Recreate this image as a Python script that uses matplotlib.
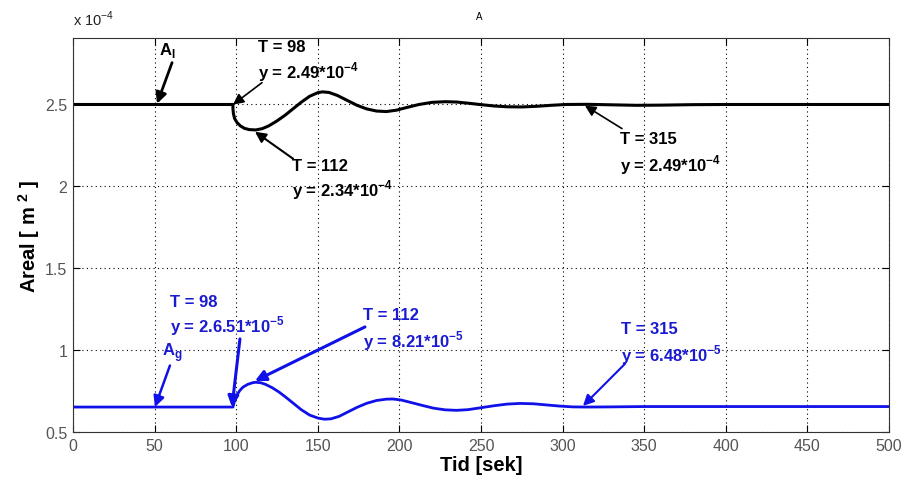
import matplotlib
matplotlib.use("Agg")
import matplotlib.pyplot as plt

plt.rcParams['font.family'] = ['Liberation Sans', 'DejaVu Sans']
plt.rcParams['mathtext.fontset'] = 'custom'
plt.rcParams['mathtext.rm'] = 'Liberation Sans'
plt.rcParams['mathtext.bf'] = 'Liberation Sans:bold'

# Data (area in units of 1e-4 m^2), time in seconds
t_l = [0, 50, 98, 98.0, 98.3, 99, 100.5, 102.5, 105, 108, 112, 116, 120, 125,
       130, 135, 140, 145, 150, 153, 157, 162, 168, 174, 180, 186, 192, 198,
       205, 212, 220, 228, 235, 242, 250, 258, 266, 275, 284, 293, 302, 315,
       330, 345, 360, 380, 400, 450, 500]
a_l = [2.495, 2.495, 2.495, 2.47, 2.44, 2.41, 2.385, 2.365, 2.35, 2.342, 2.34,
       2.348, 2.365, 2.395, 2.43, 2.47, 2.51, 2.545, 2.567, 2.572, 2.568,
       2.55, 2.52, 2.49, 2.468, 2.455, 2.452, 2.46, 2.478, 2.495, 2.508,
       2.512, 2.51, 2.503, 2.494, 2.486, 2.481, 2.48, 2.484, 2.49, 2.495,
       2.496, 2.493, 2.49, 2.491, 2.494, 2.495, 2.495, 2.495]

t_g = [0, 50, 98, 99, 100.5, 102, 104, 107, 110, 112, 115, 118, 122, 126,
       130, 135, 140, 145, 150, 154, 158, 163, 168, 174, 180, 186, 192, 196,
       201, 207, 214, 221, 228, 235, 242, 250, 258, 266, 274, 282, 290, 298,
       306, 315, 330, 350, 380, 420, 460, 500]
a_g = [0.652, 0.652, 0.652, 0.69, 0.725, 0.75, 0.772, 0.79, 0.80, 0.803,
       0.80, 0.79, 0.77, 0.745, 0.715, 0.675, 0.635, 0.603, 0.585, 0.578,
       0.58, 0.595, 0.62, 0.65, 0.675, 0.692, 0.70, 0.701, 0.695, 0.68,
       0.662, 0.645, 0.635, 0.632, 0.636, 0.648, 0.66, 0.67, 0.674, 0.672,
       0.665, 0.658, 0.653, 0.652, 0.653, 0.655, 0.655, 0.655, 0.655, 0.655]

x_ticks = [0, 50, 100, 150, 200, 250, 300, 350, 400, 450, 500]
y_ticks = [0.5, 1, 1.5, 2, 2.5]
y_tick_labels = ["0.5", "1", "1.5", "2", "2.5"]

BLUE = "#1010e8"
BLUE_TXT = "#1a1ad0"
FS = 12

fig = plt.figure(figsize=(9.02, 4.85), dpi=100)
ax = fig.add_axes([73/902, 1-433/485, (889-73)/902, (433-39)/485])

ax.plot(t_l, a_l, color='black', lw=2.2, solid_joinstyle='round')
ax.plot(t_g, a_g, color=BLUE, lw=2.0, solid_joinstyle='round')

ax.set_xlim(0, 500)
ax.set_ylim(0.5, 2.9)
ax.set_xticks(x_ticks)
ax.set_xticklabels([str(v) for v in x_ticks])
ax.set_yticks(y_ticks)
ax.set_yticklabels(y_tick_labels)
ax.tick_params(direction='in', length=5, labelsize=11.5, labelcolor='#555555',
               top=True, right=True, width=0.8, pad=4)
ax.grid(True, linestyle=(0, (1, 3)), color='black', lw=0.8)
for s in ax.spines.values():
    s.set_color('#333333')
    s.set_linewidth(0.8)

ax.set_xlabel("Tid [sek]", fontsize=14.5, fontweight='bold', labelpad=2)
ax.set_ylabel(r"Areal [ m $^{\mathbf{2}}$ ]", fontsize=14.5, fontweight='bold', labelpad=2)
fig.text(479/902, 1-17/485, "A", fontsize=7, ha='center', va='center')
fig.text(73/902, 1-19/485, r"x 10$^{-4}$", fontsize=10.5, ha='left', va='center', color='#222222')

def arrow(xy, xytext, color, lw):
    ax.annotate("", xy=xy, xytext=xytext,
                arrowprops=dict(arrowstyle='-|>', color=color, lw=lw,
                                mutation_scale=16, shrinkA=0, shrinkB=0))

def txt(s, x, y, color, fs=FS):
    ax.text(x, y, s, fontsize=fs, fontweight='bold', color=color,
            ha='left', va='center')

# Black annotations
txt(r"A$_{\mathbf{l}}$", 53, 2.83, 'black')
arrow((51.5, 2.5), (60.7, 2.75), 'black', 2.0)
txt("T = 98", 113.4, 2.848, 'black')
txt(r"y = 2.49*10$^{\mathbf{-4}}$", 113.4, 2.695, 'black')
arrow((98, 2.494), (115.8, 2.628), 'black', 1.2)
txt("T = 112", 134.2, 2.122, 'black')
txt(r"y = 2.34*10$^{\mathbf{-4}}$", 134.2, 1.982, 'black')
arrow((111.5, 2.329), (134.8, 2.165), 'black', 1.5)
txt("T = 315", 335, 2.287, 'black')
txt(r"y = 2.49*10$^{\mathbf{-4}}$", 335, 2.134, 'black')
arrow((313.7, 2.488), (336.4, 2.348), 'black', 1.2)

# Blue annotations
txt("T = 98", 59.4, 1.293, BLUE_TXT)
txt(r"y = 2.6.51*10$^{\mathbf{-5}}$", 59.4, 1.152, BLUE_TXT)
arrow((97.4, 0.652), (102.3, 1.067), BLUE, 2.2)
txt(r"A$_{\mathbf{g}}$", 54.5, 0.99, BLUE_TXT)
arrow((50.2, 0.652), (59.4, 0.905), BLUE, 1.8)
txt("T = 112", 177.7, 1.213, BLUE_TXT)
txt(r"y = 8.21*10$^{\mathbf{-5}}$", 177.7, 1.061, BLUE_TXT)
arrow((111.5, 0.811), (178.9, 1.14), BLUE, 2.2)
txt("T = 315", 335.8, 1.128, BLUE_TXT)
txt(r"y = 6.48*10$^{\mathbf{-5}}$", 335.8, 0.976, BLUE_TXT)
arrow((312.5, 0.659), (338.2, 0.915), BLUE, 1.5)

fig.savefig("out.png", dpi=100)
